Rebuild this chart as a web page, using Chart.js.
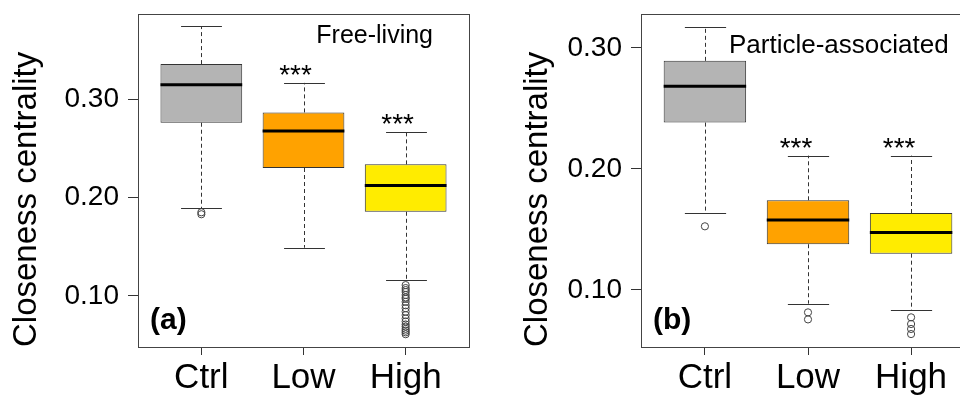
<!DOCTYPE html>
<html>
<head>
<meta charset="utf-8">
<script src="https://cdn.jsdelivr.net/npm/chart.js@4.4.1/dist/chart.umd.min.js"></script>
<style>
  html, body { margin: 0; padding: 0; background: #fff; overflow: hidden; }
  #wrap { position: relative; width: 960px; height: 395px; overflow: hidden; }
  .panel { position: absolute; top: 0; height: 395px; }
  #pa { left: 0; width: 480px; }
  #pb { left: 480px; width: 500px; }
</style>
</head>
<body>
<div id="wrap">
  <div class="panel" id="pa"><canvas id="chartA" width="480" height="395"></canvas></div>
  <div class="panel" id="pb"><canvas id="chartB" width="500" height="395"></canvas></div>
</div>
<script>
const categories = ["Ctrl", "Low", "High"];
const boxColors = ["#b4b4b4", "#ffa200", "#ffec00"];
const yTicks = [0.10, 0.20, 0.30];
const stars = ["", "***", "***"];

// panel (a) Free-living
const freeLow = [0.189, 0.149, 0.116];     // lower whisker
const freeQ1 = [0.276, 0.230, 0.1855];
const freeMed = [0.3146, 0.2675, 0.2122];
const freeQ3 = [0.3356, 0.2865, 0.2337];
const freeHigh = [0.374, 0.3165, 0.267];   // upper whisker
const freeOut = [
  [0.185, 0.183],
  [],
  [0.111, 0.108, 0.106, 0.104, 0.101, 0.0985, 0.097, 0.094, 0.0905, 0.0875,
   0.084, 0.0805, 0.077, 0.074, 0.071, 0.0688, 0.0665, 0.0647, 0.063, 0.0611]
];

// panel (b) Particle-associated
const partLow = [0.1634, 0.0887, 0.0834];
const partQ1 = [0.2383, 0.1378, 0.130];
const partMed = [0.2683, 0.1579, 0.1474];
const partQ3 = [0.2893, 0.1741, 0.1636];
const partHigh = [0.3176, 0.211, 0.211];
const partOut = [
  [0.1526],
  [0.0815, 0.0757],
  [0.0774, 0.0719, 0.0678, 0.0636]
];

const FONT = "'Liberation Sans', Arial, sans-serif";

const boxPlugin = {
  id: "boxWhiskers",
  beforeDatasetsDraw(chart) {
    const { ctx, scales: { x, y } } = chart;
    const s = chart.options.plugins.boxWhiskers;
    const step = x.getPixelForValue(2) - x.getPixelForValue(1);
    ctx.save();
    ctx.strokeStyle = "#333";
    ctx.lineWidth = 1;
    s.q1.forEach((q1, i) => {
      const cx = Math.round(x.getPixelForValue(i + 1)) + 0.5;
      const half = step * 0.2;
      // dashed whiskers
      ctx.setLineDash([4, 3]);
      ctx.beginPath();
      ctx.moveTo(cx, y.getPixelForValue(s.q3[i]));
      ctx.lineTo(cx, y.getPixelForValue(s.hi[i]));
      ctx.moveTo(cx, y.getPixelForValue(q1));
      ctx.lineTo(cx, y.getPixelForValue(s.lo[i]));
      ctx.stroke();
      ctx.setLineDash([]);
      // caps
      ctx.beginPath();
      [s.hi[i], s.lo[i]].forEach(v => {
        const py = Math.round(y.getPixelForValue(v)) + 0.5;
        ctx.moveTo(cx - half, py);
        ctx.lineTo(cx + half, py);
      });
      ctx.stroke();
    });
    ctx.restore();
  },
  afterDatasetsDraw(chart) {
    const { ctx, chartArea: a, scales: { x, y } } = chart;
    const s = chart.options.plugins.boxWhiskers;
    const step = x.getPixelForValue(2) - x.getPixelForValue(1);
    ctx.save();
    // medians
    ctx.strokeStyle = "#000";
    ctx.lineWidth = 3;
    s.med.forEach((m, i) => {
      const cx = x.getPixelForValue(i + 1);
      const py = y.getPixelForValue(m);
      ctx.beginPath();
      ctx.moveTo(cx - step * 0.4, py);
      ctx.lineTo(cx + step * 0.4, py);
      ctx.stroke();
    });
    // significance stars
    ctx.fillStyle = "#000";
    ctx.font = "28px " + FONT;
    ctx.textAlign = "center";
    ctx.textBaseline = "alphabetic";
    stars.forEach((t, i) => {
      if (!t) return;
      const cx = x.getPixelForValue(i + 1) - s.starShift;
      ctx.fillText(t, cx, y.getPixelForValue(s.hi[i]) + 1);
    });
    // panel title and letter
    ctx.font = s.titleSize + "px " + FONT;
    ctx.textAlign = s.titleAlign;
    ctx.fillText(s.title, s.titleAlign === "right" ? a.right - 36 : a.left + 88, a.top + s.titleBase);
    ctx.font = "bold 30px " + FONT;
    ctx.textAlign = "left";
    ctx.fillText(s.letter, a.left + 12, a.bottom - 18);
    // frame
    ctx.strokeStyle = "#444";
    ctx.lineWidth = 1;
    ctx.strokeRect(a.left + 0.5, a.top + 0.5, a.right - a.left, a.bottom - a.top);
    ctx.restore();
  }
};

function makeChart(id, lo, q1, med, q3, hi, out, yMin, yMax, opts) {
  const outliers = [];
  out.forEach((list, i) => list.forEach(v => outliers.push({ x: i + 1, y: v })));
  return new Chart(document.getElementById(id), {
    type: "bar",
    data: {
      datasets: [
        {
          type: "bar",
          data: q1.map((v, i) => ({ x: i + 1, y: [v, q3[i]] })),
          backgroundColor: boxColors,
          borderColor: "#333",
          borderWidth: 1,
          borderSkipped: false,
          categoryPercentage: 1,
          barPercentage: 0.8
        },
        {
          type: "scatter",
          data: outliers,
          pointRadius: 3.6,
          pointBackgroundColor: "rgba(0,0,0,0)",
          pointBorderColor: "#444",
          pointBorderWidth: 1
        }
      ]
    },
    options: {
      responsive: false,
      animation: false,
      layout: { padding: { top: 14, right: opts.padRight, left: 0, bottom: 0 } },
      plugins: {
        legend: { display: false },
        tooltip: { enabled: false },
        boxWhiskers: Object.assign({ lo, q1, med, q3, hi }, opts)
      },
      scales: {
        x: {
          type: "linear",
          offset: false,
          min: 0.38,
          max: 3.62,
          afterBuildTicks: sc => { sc.ticks = categories.map((c, i) => ({ value: i + 1 })); },
          afterFit: sc => { sc.height = 48; sc.paddingLeft = 0; sc.paddingRight = 0; },
          grid: { offset: false, drawOnChartArea: false, drawTicks: true, tickLength: 8, color: "#333" },
          border: { display: false },
          ticks: {
            padding: 2,
            color: "#000",
            font: { family: FONT, size: 35 },
            callback: v => categories[v - 1]
          }
        },
        y: {
          type: "linear",
          min: yMin,
          max: yMax,
          afterBuildTicks: sc => { sc.ticks = yTicks.map(v => ({ value: v })); },
          afterFit: sc => { sc.width = opts.yWidth; sc.paddingTop = 0; sc.paddingBottom = 0; },
          grid: { drawOnChartArea: false, drawTicks: true, tickLength: 10, color: "#333" },
          border: { display: false },
          ticks: {
            padding: 9,
            color: "#000",
            font: { family: FONT, size: 28 },
            callback: v => v.toFixed(2)
          },
          title: {
            display: true,
            text: "Closeness centrality",
            align: "start",
            color: "#000",
            font: { family: FONT, size: 33 },
            padding: { top: opts.titlePad, bottom: 0 }
          }
        }
      }
    },
    plugins: [boxPlugin]
  });
}

makeChart("chartA", freeLow, freeQ1, freeMed, freeQ3, freeHigh, freeOut, 0.0481, 0.3865, {
  padRight: 11, yWidth: 138, titlePad: 7, starShift: 8,
  title: "Free-living", titleSize: 25, titleAlign: "right", titleBase: 29, letter: "(a)"
});

makeChart("chartB", partLow, partQ1, partMed, partQ3, partHigh, partOut, 0.0529, 0.328, {
  padRight: 0, yWidth: 161, titlePad: 38, starShift: 12,
  title: "Particle-associated", titleSize: 26, titleAlign: "left", titleBase: 39, letter: "(b)"
});
</script>
</body>
</html>
